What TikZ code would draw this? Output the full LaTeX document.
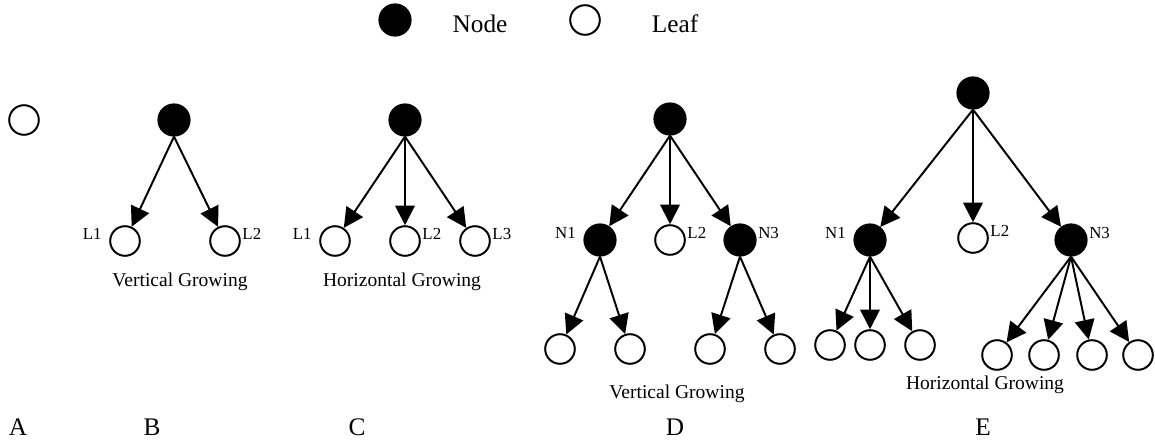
\documentclass[tikz,border=0pt]{standalone}
\usepackage{fontspec}
\setmainfont{Liberation Serif}
\usetikzlibrary{arrows.meta}

\tikzset{
	fullnode/.style={circle, draw=black, fill=black, line width=1.4pt, minimum size=0.78cm, inner sep=0pt},
	leafnode/.style={circle, draw=black, fill=white, line width=1.4pt, minimum size=0.74cm, inner sep=0pt},
	growarrow/.style={-{Triangle[length=14pt,width=14pt]}, line width=1.4pt},
	lab/.style={font=\fontsize{12}{13}\selectfont, inner sep=1pt, yshift=0.18cm},
	captext/.style={font=\fontsize{13.9}{15}\selectfont},
	bigtext/.style={font=\fontsize{18}{20}\selectfont},
	label distance=0pt
}

\begin{document}
\begin{tikzpicture}
		\useasboundingbox (0,0) rectangle (28.875,11.075);

		% legend
		\node [fullnode] (keyN) at (9.875,10.575) {};
		\node [bigtext] (keyNtxt) at (12.0,10.475) {Node};
		\node [leafnode] (keyL) at (14.625,10.575) {};
		\node [bigtext] (keyLtxt) at (16.875,10.475) {Leaf};

		% A: a single leaf
		\node [leafnode] (a) at (0.6,8.075) {};

		% B: vertical growing
		\node [fullnode] (b) at (4.35,8.075) {};
		\node [leafnode, label={[lab,xshift=-0.15cm]left:L1}] (b1) at (3.125,5.05) {};
		\node [leafnode, label={[lab]right:L2}] (b2) at (5.625,5.05) {};
		\draw [growarrow] (b.south) -- (b1);
		\draw [growarrow] (b.south) -- (b2);
		\node [captext] (bcap) at (4.5,4.025) {Vertical Growing};

		% C: horizontal growing
		\node [fullnode] (c) at (10.125,8.075) {};
		\node [leafnode, label={[lab,xshift=-0.15cm]left:L1}] (c1) at (8.375,5.05) {};
		\node [leafnode, label={[lab]right:L2}] (c2) at (10.125,5.05) {};
		\node [leafnode, label={[lab]right:L3}] (c3) at (11.875,5.05) {};
		\draw [growarrow] (c.south) -- (c1);
		\draw [growarrow] (c.south) -- (c2);
		\draw [growarrow] (c.south) -- (c3);
		\node [captext] (ccap) at (10.05,4.025) {Horizontal Growing};

		% D: leaves L1 and L3 turned into nodes
		\node [fullnode] (d) at (16.75,8.1) {};
		\node [fullnode, label={[lab,xshift=-0.15cm]left:N1}] (dn1) at (15.0,5.075) {};
		\node [leafnode, label={[lab]right:L2}] (dl2) at (16.75,5.075) {};
		\node [fullnode, label={[lab]right:N3}] (dn3) at (18.5,5.075) {};
		\draw [growarrow] (d.south) -- (dn1);
		\draw [growarrow] (d.south) -- (dl2);
		\draw [growarrow] (d.south) -- (dn3);
		\node [leafnode] (d11) at (14.0,2.35) {};
		\node [leafnode] (d12) at (15.75,2.35) {};
		\node [leafnode] (d31) at (17.75,2.35) {};
		\node [leafnode] (d32) at (19.5,2.35) {};
		\draw [growarrow] (dn1.south) -- (d11);
		\draw [growarrow] (dn1.south) -- (d12);
		\draw [growarrow] (dn3.south) -- (d31);
		\draw [growarrow] (dn3.south) -- (d32);
		\node [captext] (dcap) at (16.925,1.225) {Vertical Growing};

		% E: more leaves under N1 and N3
		\node [fullnode] (e) at (24.325,8.75) {};
		\node [fullnode, label={[lab,xshift=-0.15cm]left:N1}] (en1) at (21.75,5.075) {};
		\node [leafnode, label={[lab]right:L2}] (el2) at (24.325,5.125) {};
		\node [fullnode, label={[lab]right:N3}] (en3) at (26.775,5.075) {};
		\draw [growarrow] (e.south) -- (en1);
		\draw [growarrow] (e.south) -- (el2);
		\draw [growarrow] (e.south) -- (en3);
		\node [leafnode] (e11) at (20.75,2.45) {};
		\node [leafnode] (e12) at (21.75,2.45) {};
		\node [leafnode] (e13) at (23.0,2.45) {};
		\draw [growarrow] (en1.south) -- (e11);
		\draw [growarrow] (en1.south) -- (e12);
		\draw [growarrow] (en1.south) -- (e13);
		\node [leafnode] (e31) at (24.925,2.2) {};
		\node [leafnode] (e32) at (26.1,2.2) {};
		\node [leafnode] (e33) at (27.3,2.2) {};
		\node [leafnode] (e34) at (28.45,2.2) {};
		\draw [growarrow] (en3.south) -- (e31);
		\draw [growarrow] (en3.south) -- (e32);
		\draw [growarrow] (en3.south) -- (e33);
		\draw [growarrow] (en3.south) -- (e34);
		\node [captext] (ecap) at (24.625,1.45) {Horizontal Growing};

		% panel letters
		\node [bigtext] (la) at (0.45,0.4) {A};
		\node [bigtext] (lb) at (3.8,0.4) {B};
		\node [bigtext] (lc) at (8.925,0.4) {C};
		\node [bigtext] (ld) at (16.875,0.4) {D};
		\node [bigtext] (le) at (24.575,0.4) {E};

		\end{tikzpicture}
\end{document}
